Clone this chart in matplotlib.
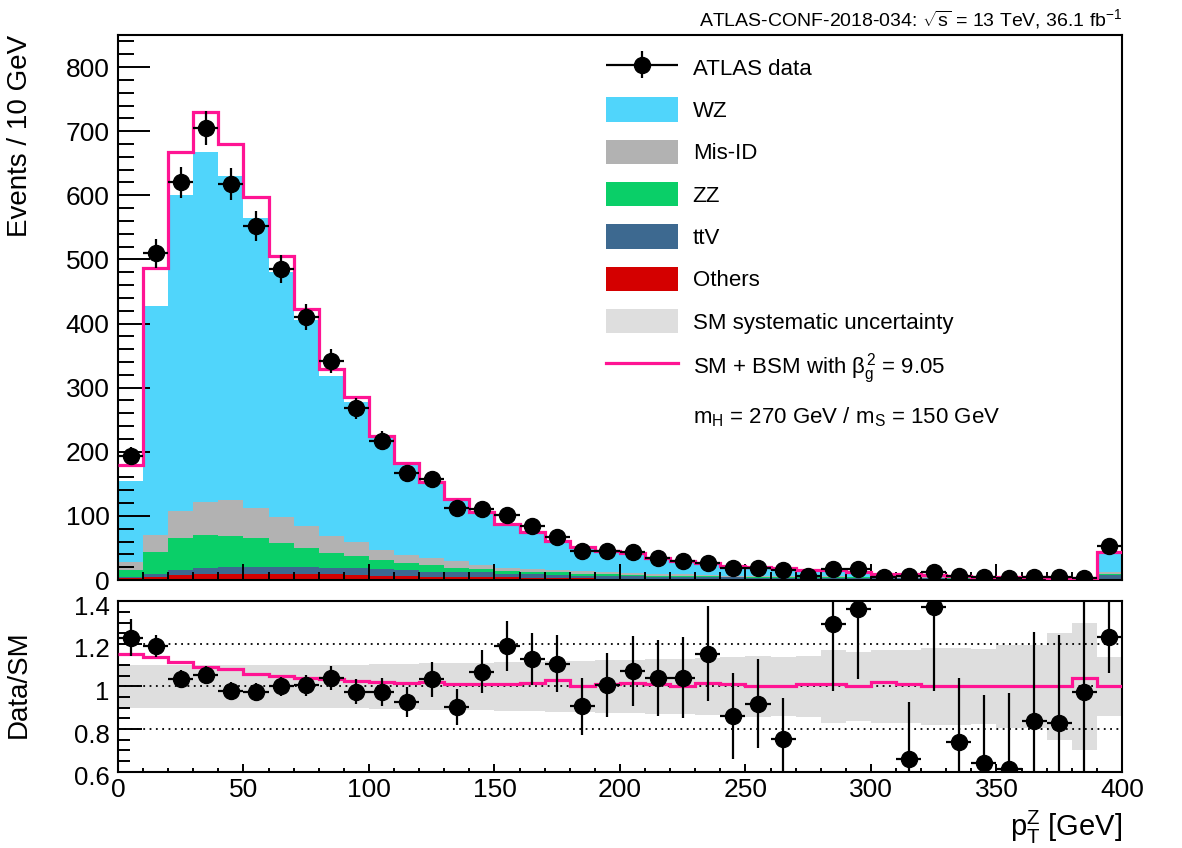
import numpy as np
import matplotlib
matplotlib.use('Agg')
import matplotlib.pyplot as plt
import matplotlib.transforms as mtransforms
from matplotlib.patches import Patch
from matplotlib.lines import Line2D
from matplotlib.legend_handler import HandlerErrorbar
from matplotlib.ticker import MultipleLocator, FuncFormatter

plt.rcParams['font.family'] = ['Liberation Sans', 'DejaVu Sans']
plt.rcParams['mathtext.fontset'] = 'custom'
plt.rcParams['mathtext.rm'] = 'Liberation Sans'
plt.rcParams['mathtext.it'] = 'Liberation Sans'
plt.rcParams['mathtext.bf'] = 'Liberation Sans:bold'

# pT(Z) binning, 10 GeV bins, last bin includes overflow
edges = np.arange(0, 410, 10)

data_counts = [193, 510, 620, 705, 618, 552, 485, 410, 342, 268, 217, 167, 157, 113, 111, 102, 84, 67, 46, 45,
               43, 34, 30, 27, 18, 19, 15, 6, 17, 17, 5, 6, 12, 6, 4, 3, 4, 4, 3, 53]

others = [3, 5, 8, 9, 9, 9, 9, 9, 9, 8, 6, 6, 5, 5, 4, 4, 3, 3, 3, 2,
          2, 2, 2, 2, 1, 1, 1, 1, 1, 1, 1, 1, 1, 0.5, 0.5, 0.5, 0.5, 0.5, 0.5, 1.5]
ttv = [1.5, 5, 8, 9, 12, 12, 11, 12, 10, 10, 11, 10, 8, 7, 8, 6, 6, 5, 4, 4,
       4, 3, 3, 2, 3, 2, 2, 2, 2, 2, 1.5, 1.5, 1.5, 1.2, 1, 1, 1, 0.8, 0.8, 6]
zz = [11, 34, 49, 52, 48, 44, 38, 29, 23, 19, 14, 10, 10, 7, 5, 4, 4, 4, 3, 3,
      2, 2, 2, 2, 1, 1.5, 1.5, 1.2, 1.2, 1, 1, 1, 0.8, 0.8, 0.6, 0.5, 0.5, 0.4, 0.4, 1.5]
misid = [12, 26, 42, 52, 56, 48, 41, 35, 26, 23, 16, 13, 11, 11, 6, 5, 4, 4, 4, 3,
         3, 3, 2, 2, 2, 2, 2, 2, 1.5, 1.5, 1.5, 1, 1, 1, 1, 0.8, 0.8, 0.6, 0.6, 3]
wz = [127, 357, 493, 546, 505, 451, 382, 321, 250, 217, 174, 140, 116, 96, 82, 67, 57, 43, 38, 32.5,
      30, 24.6, 20, 17.5, 14.8, 13.5, 11.5, 9.6, 9.2, 7.5, 4.8, 4.4, 3.7, 2.5, 1.9, 1.2, 1.2, 0.7, 0.6, 30]

bsm_total = [179, 487, 668, 730, 680, 598, 505, 422, 329, 285, 225, 182, 153, 127, 106, 87, 75, 61, 52, 45,
             42, 35, 29, 26, 22, 20, 18, 16, 15, 13, 10, 9, 8, 6, 5, 4, 4, 3, 3, 43]

# ratio panel
data_ratio = [1.23, 1.19, 1.035, 1.055, 0.98, 0.975, 1.0, 1.006, 1.04, 0.975, 0.975, 0.928, 1.035, 0.905,
              1.07, 1.19, 1.13, 1.108, 0.906, 1.008, 1.074, 1.042, 1.042, 1.155, 0.86, 0.92, 0.752, np.nan,
              1.294, 1.364, np.nan, 0.658, 1.375, 0.737, 0.64, 0.614, 0.839, 0.828, 0.976, 1.234]
bsm_ratio = [1.155, 1.14, 1.113, 1.093, 1.08, 1.06, 1.05, 1.04, 1.035, 1.027, 1.02, 1.015, 1.02, 1.011,
             1.011, 1.011, 1.015, 1.03, 1.003, 1.01, 1.018, 1.01, 1.003, 1.018, 1.011, 1.003, 1.0, 1.01,
             1.01, 1.0, 1.02, 1.01, 1.0, 1.0, 1.0, 1.0, 1.0, 1.0, 1.038, 1.0]
syst = [0.10, 0.10, 0.10, 0.10, 0.10, 0.10, 0.10, 0.10, 0.10, 0.10, 0.105, 0.105, 0.11, 0.11, 0.11, 0.115,
        0.115, 0.12, 0.12, 0.125, 0.125, 0.13, 0.13, 0.135, 0.14, 0.145, 0.14, 0.145, 0.17, 0.16, 0.17, 0.17,
        0.18, 0.18, 0.175, 0.195, 0.195, 0.25, 0.30, 0.14]

c_wz = '#50d5fb'
c_misid = '#b2b2b2'
c_zz = '#0acf68'
c_ttv = '#3d6990'
c_others = '#d40000'
c_band = '#dedede'
c_pink = '#ff1493'

data_counts = np.array(data_counts, dtype=float)
data_ratio = np.array(data_ratio)
centers = edges[:-1] + 5

fig = plt.figure(figsize=(11.82, 8.48), dpi=100)
ax = fig.add_axes([0.0998, 0.316, 0.8494, 0.6427])
rax = fig.add_axes([0.0998, 0.0902, 0.8494, 0.2005])

# stacked backgrounds
bottom = np.zeros(len(wz))
for vals, col in [(others, c_others), (ttv, c_ttv), (zz, c_zz), (misid, c_misid), (wz, c_wz)]:
    top = bottom + np.array(vals)
    ax.stairs(top, edges, baseline=bottom, fill=True, color=col, lw=0)
    bottom = top

ax.stairs(bsm_total, edges, baseline=None, color=c_pink, lw=2.3, zorder=3)
dat = ax.errorbar(centers, data_counts, xerr=5, yerr=np.sqrt(data_counts), fmt='o', color='k',
                  ms=11.5, lw=1.6, capsize=0, zorder=4)

ax.set_xlim(0, 400)
ax.set_ylim(0, 850)
ax.yaxis.set_major_locator(MultipleLocator(100))
ax.yaxis.set_minor_locator(MultipleLocator(20))
ax.xaxis.set_major_locator(MultipleLocator(50))
ax.xaxis.set_minor_locator(MultipleLocator(10))
ax.tick_params(axis='both', which='both', direction='in', top=False, right=False, width=1.4)
ax.tick_params(axis='y', which='major', length=23, labelsize=19, pad=6)
ax.tick_params(axis='y', which='minor', length=11.5)
ax.tick_params(axis='x', which='major', length=11.5, labelbottom=False)
ax.tick_params(axis='x', which='minor', length=5.5)
for s in ax.spines.values():
    s.set_linewidth(1.5)

handles = [dat,
           Patch(facecolor=c_wz), Patch(facecolor=c_misid), Patch(facecolor=c_zz),
           Patch(facecolor=c_ttv), Patch(facecolor=c_others), Patch(facecolor=c_band),
           Line2D([], [], color=c_pink, lw=2.3),
           Line2D([], [], color='none')]
labels = ['ATLAS data', 'WZ', 'Mis-ID', 'ZZ', 'ttV', 'Others', 'SM systematic uncertainty',
          r'SM + BSM with $\beta_{\mathrm{g}}^{2}$ = 9.05',
          r'm$_{\mathrm{H}}$ = 270 GeV / m$_{\mathrm{S}}$ = 150 GeV']
fig.legend(handles, labels, loc='upper left', bbox_to_anchor=(606 / 1182, 1 - 55 / 848),
           frameon=False, fontsize=16, handlelength=3.25, handleheight=1.3, handletextpad=0.65,
           labelspacing=0.8, borderpad=0, borderaxespad=0,
           handler_map={type(dat): HandlerErrorbar(xerr_size=1.62, yerr_size=0.6)})

# ratio panel
rax.stairs(1 + np.array(syst), edges, baseline=1 - np.array(syst), fill=True, color=c_band, lw=0)
for yv in [0.8, 1.0, 1.2]:
    rax.axhline(yv, color='k', ls=(0, (1, 2.5)), lw=1.3, zorder=1.5)
rax.stairs(bsm_ratio, edges, baseline=None, color=c_pink, lw=2.3, zorder=3)
rax.errorbar(centers, data_ratio, xerr=5, yerr=data_ratio / np.sqrt(data_counts), fmt='o', color='k',
             ms=11.5, lw=1.6, capsize=0, zorder=4)
rax.set_xlim(0, 400)
rax.set_ylim(0.6, 1.4)
rax.yaxis.set_major_locator(MultipleLocator(0.2))
rax.yaxis.set_minor_locator(MultipleLocator(0.05))
rax.yaxis.set_major_formatter(FuncFormatter(lambda v, p: '{:g}'.format(round(v, 2))))
rax.xaxis.set_major_locator(MultipleLocator(50))
rax.xaxis.set_minor_locator(MultipleLocator(10))
rax.tick_params(axis='both', which='both', direction='in', top=False, right=False, width=1.4)
rax.tick_params(axis='y', which='major', length=17, labelsize=18.5, pad=6)
rax.tick_params(axis='y', which='minor', length=8.5)
rax.tick_params(axis='x', which='major', length=6, labelsize=19, pad=5)
rax.tick_params(axis='x', which='minor', length=3)
for s in rax.spines.values():
    s.set_linewidth(1.5)
# ROOT puts the ratio labels a touch below their ticks
shift = mtransforms.ScaledTranslation(0, -4 / 100, fig.dpi_scale_trans)
for lab in rax.get_yticklabels():
    lab.set_transform(lab.get_transform() + shift)

fig.text(20 / 1182, 1 - 35 / 848, 'Events / 10 GeV', rotation=90, ha='center', va='top', fontsize=20)
fig.text(19 / 1182, 1 - 684 / 848, 'Data/SM', rotation=90, ha='center', va='center', fontsize=20)
fig.text(1122 / 1182, 1 - 836 / 848, r'p$_{\mathrm{T}}^{\mathrm{Z}}$ [GeV]', ha='right', va='baseline',
         fontsize=21)
fig.text(1122 / 1182, 1 - 26 / 848, r'ATLAS-CONF-2018-034: $\sqrt{\mathrm{s}}$ = 13 TeV, 36.1 fb$^{-1}$',
         ha='right', va='baseline', fontsize=14)

fig.savefig('out.png', dpi=100)
